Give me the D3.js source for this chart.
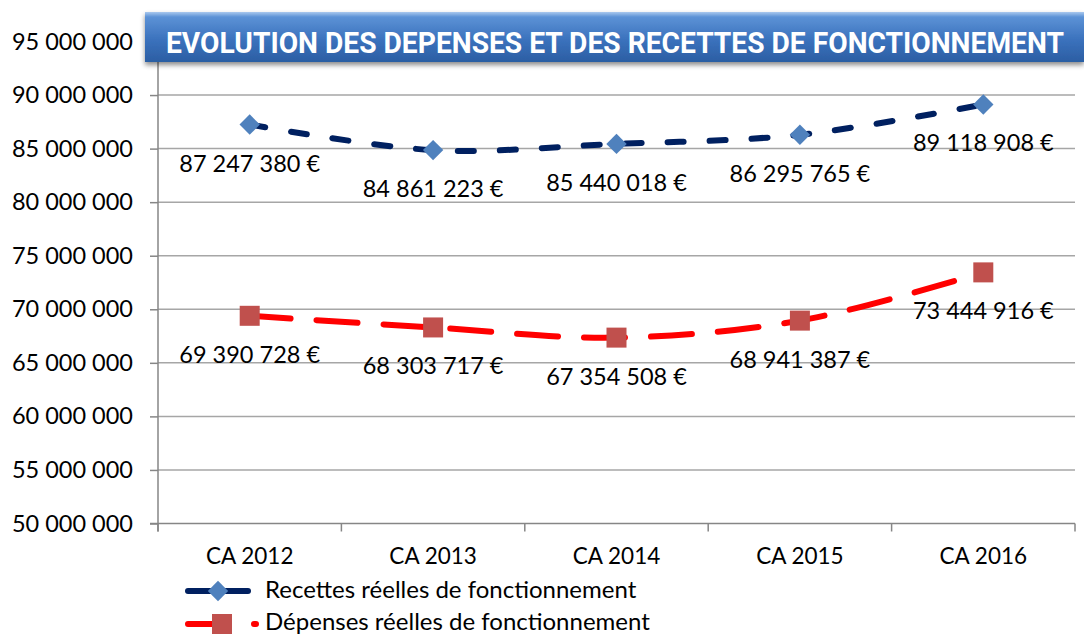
<!DOCTYPE html>
<html><head><meta charset="utf-8">
<script src="https://cdn.jsdelivr.net/npm/d3@7"></script>
<style>
html,body{margin:0;padding:0;background:#fff;}
svg{display:block;font-family:"Lato","Open Sans",sans-serif;}
</style></head>
<body>
<svg id="chart" width="1084" height="636"></svg>
<script>
const categories = ["CA 2012","CA 2013","CA 2014","CA 2015","CA 2016"];
const recettes = [87247380, 84861223, 85440018, 86295765, 89118908];
const depenses = [69390728, 68303717, 67354508, 68941387, 73444916];
const yTicks = [50000000,55000000,60000000,65000000,70000000,75000000,80000000,85000000,90000000,95000000];
const seriesNames = ["Recettes réelles de fonctionnement","Dépenses réelles de fonctionnement"];
const title = "EVOLUTION DES DEPENSES ET DES RECETTES DE FONCTIONNEMENT";

const svg = d3.select("#chart");
const L = 158, R = 1075, T = 41.5, B = 523.5;
const x = d3.scaleBand().domain(categories).range([L, R]);
const y = d3.scaleLinear().domain([50000000, 95000000]).range([B, T]);
const fmtNum = v => d3.format(",")(v).replace(/,/g, " ");

// gridlines
svg.append("g").selectAll("line").data(yTicks.slice(1)).join("line")
  .attr("x1", L).attr("x2", R).attr("y1", d => y(d)).attr("y2", d => y(d))
  .attr("stroke", "#a6a6a6").attr("stroke-width", 1.5);

// y axis
const yAxis = svg.append("g").attr("transform", `translate(${L},0)`)
  .call(d3.axisLeft(y).tickValues(yTicks).tickSize(8).tickPadding(17).tickFormat(fmtNum));
yAxis.select(".domain").attr("stroke", "#868686").attr("stroke-width", 1.5).attr("d", `M0,${T}V${B + 8}`);
yAxis.selectAll(".tick line").attr("stroke", "#868686").attr("stroke-width", 1.5);
yAxis.selectAll(".tick text").attr("fill", "#000").style("font-size", "23.5px").style("font-family", "Lato, sans-serif");

// x axis
const xAxis = svg.append("g").attr("transform", `translate(0,${B})`)
  .call(d3.axisBottom(x).tickSize(0).tickPadding(25));
xAxis.select(".domain").attr("stroke", "#868686").attr("stroke-width", 1.5).attr("d", `M${L - 8},0H${R}`);
xAxis.selectAll(".tick text").attr("fill", "#000").style("font-size", "22.5px").style("font-family", "Lato, sans-serif");
const bounds = categories.map(c => x(c)).concat([R]);
xAxis.append("g").selectAll("line").data(bounds).join("line")
  .attr("x1", d => d).attr("x2", d => d).attr("y1", 0).attr("y2", 8)
  .attr("stroke", "#868686").attr("stroke-width", 1.5);

const cx = c => x(c) + x.bandwidth() / 2;
const line = d3.line().x((d, i) => cx(categories[i])).y(d => y(d)).curve(d3.curveCatmullRom.alpha(0.5));

// series lines
svg.append("path").attr("d", line(recettes)).attr("fill", "none")
  .attr("stroke", "#002060").attr("stroke-width", 6).attr("stroke-linecap", "round")
  .attr("stroke-dasharray", "16 26");
svg.append("path").attr("d", line(depenses)).attr("fill", "none")
  .attr("stroke", "#ff0000").attr("stroke-width", 6).attr("stroke-linecap", "round")
  .attr("stroke-dasharray", "41 26");

// markers
svg.append("g").selectAll("rect").data(recettes).join("rect")
  .attr("x", -10).attr("y", -10).attr("width", 20).attr("height", 20)
  .attr("transform", (d, i) => `translate(${cx(categories[i])},${y(d)}) rotate(45) scale(0.72)`)
  .attr("fill", "#4f81bd");
svg.append("g").selectAll("rect").data(depenses).join("rect")
  .attr("x", (d, i) => cx(categories[i]) - 10).attr("y", d => y(d) - 10)
  .attr("width", 20).attr("height", 20).attr("fill", "#c0504d");

// data labels
const labelStyle = sel => sel.attr("text-anchor", "middle").attr("fill", "#000")
  .style("font-size", "23.5px").style("font-family", "Lato, sans-serif");
svg.append("g").selectAll("text").data(recettes).join("text")
  .attr("x", (d, i) => cx(categories[i])).attr("y", d => y(d) + 47)
  .text(d => fmtNum(d) + " €").call(labelStyle);
svg.append("g").selectAll("text").data(depenses).join("text")
  .attr("x", (d, i) => cx(categories[i])).attr("y", d => y(d) + 47)
  .text(d => fmtNum(d) + " €").call(labelStyle);

// title box
const defs = svg.append("defs");
const g = defs.append("linearGradient").attr("id", "tg").attr("x1", 0).attr("y1", 0).attr("x2", 0).attr("y2", 1);
[["0%", "#a9c8ee"], ["10%", "#5c92d6"], ["55%", "#3b72bd"], ["100%", "#2b5ea3"]]
  .forEach(([o, c]) => g.append("stop").attr("offset", o).attr("stop-color", c));
const f = defs.append("filter").attr("id", "sh").attr("x", "-5%").attr("y", "-20%").attr("width", "110%").attr("height", "160%");
f.append("feDropShadow").attr("dx", 0).attr("dy", 3).attr("stdDeviation", 2.5).attr("flood-color", "#000").attr("flood-opacity", 0.45);
svg.append("rect").attr("x", 145).attr("y", 12).attr("width", 939).attr("height", 50)
  .attr("fill", "url(#tg)").attr("filter", "url(#sh)");
const tt = svg.append("text").text(title)
  .attr("fill", "#fff").attr("font-weight", "bold")
  .style("font-size", "30px").style("font-family", "Roboto, 'DejaVu Sans Condensed', sans-serif");
const natural = tt.node().getComputedTextLength();
const sx = 898 / natural;
tt.attr("transform", `translate(166,53) scale(${sx},1)`);

// legend
const lg = svg.append("g");
lg.append("line").attr("x1", 188).attr("x2", 248).attr("y1", 591).attr("y2", 591)
  .attr("stroke", "#002060").attr("stroke-width", 6).attr("stroke-linecap", "round");
lg.append("rect").attr("x", -10).attr("y", -10).attr("width", 20).attr("height", 20)
  .attr("transform", "translate(218,591) rotate(45) scale(0.72)").attr("fill", "#4f81bd");
lg.append("line").attr("x1", 188).attr("x2", 256).attr("y1", 624).attr("y2", 624)
  .attr("stroke", "#ff0000").attr("stroke-width", 6).attr("stroke-linecap", "round")
  .attr("stroke-dasharray", "40 26");
lg.append("rect").attr("x", 212).attr("y", 614).attr("width", 20).attr("height", 20).attr("fill", "#c0504d");
lg.selectAll("text").data(seriesNames).join("text")
  .attr("x", 265).attr("y", (d, i) => 598 + i * 32).text(d => d)
  .attr("fill", "#000").style("font-size", "24px").style("font-family", "Lato, sans-serif");
</script>
</body></html>
